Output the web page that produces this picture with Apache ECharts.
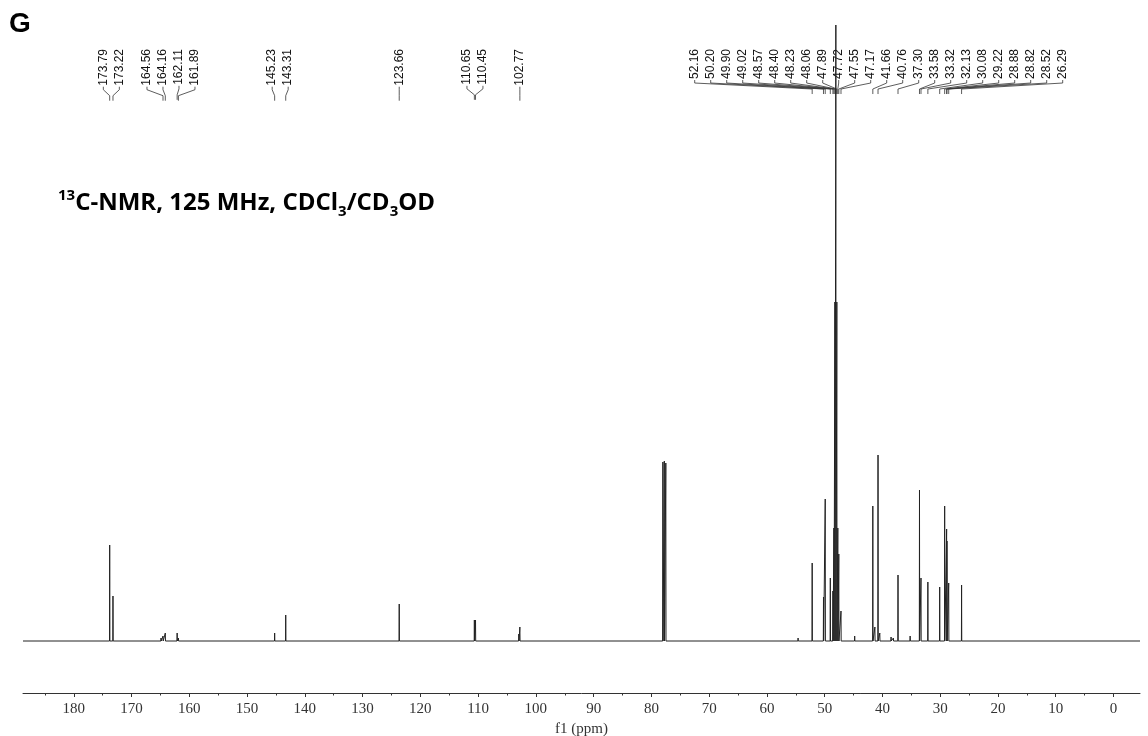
<!DOCTYPE html>
<html>
<head>
<meta charset="utf-8">
<script src="https://cdn.jsdelivr.net/npm/echarts@6/dist/echarts.min.js"></script>
<style>
  html, body { margin: 0; padding: 0; background: #fff; }
  #chart { width: 1148px; height: 736px; }
</style>
</head>
<body>
<div id="chart"></div>
<script>
// Assigned 13C lines: chemical shift (ppm) and peak height
const labelledShifts = [
  173.79, 173.22, 164.56, 164.16, 162.11, 161.89, 145.23, 143.31, 123.66,
  110.65, 110.45, 102.77,
  52.16, 50.20, 49.90, 49.02, 48.57, 48.40, 48.23, 48.06, 47.89, 47.72, 47.55,
  47.17, 41.66, 40.76, 37.30, 33.58, 33.32, 32.13, 30.08, 29.22, 28.88, 28.82,
  28.52, 26.29
];
const labelledHeights = [
  96, 45, 5, 8, 8, 3, 8, 26, 37,
  21, 21, 14,
  78, 44, 142, 63, 50, 113, 339, 616, 339, 113, 87,
  30, 135, 186, 66, 151, 63, 59, 54, 135, 112, 100,
  58, 56
];
// Unlabelled lines: CDCl3 triplet and weak signals
const otherShifts  = [78.01, 77.76, 77.50, 164.90, 102.95, 54.60, 44.80, 41.30, 40.45, 38.50, 38.10, 35.20];
const otherHeights = [179, 180, 178, 3, 7, 3, 5, 14, 8, 4, 3, 5];

// Axis ticks (ppm)
const majorTicks = [0, 10, 20, 30, 40, 50, 60, 70, 80, 90, 100, 110, 120, 130, 140, 150, 160, 170, 180];
const minorTicks = [5, 15, 25, 35, 45, 55, 65, 75, 85, 95, 105, 115, 125, 135, 145, 155, 165, 175, 185];
const ppmMin = -4.6, ppmMax = 188.8;

// Stick spectrum: each line drawn as a narrow spike on a flat baseline
const halfWidth = 0.03;
const lines = labelledShifts.map((p, i) => [p, labelledHeights[i]])
  .concat(otherShifts.map((p, i) => [p, otherHeights[i]]))
  .sort((a, b) => b[0] - a[0]);
const spectrum = [[ppmMax, 0]];
lines.forEach(([p, h]) => {
  spectrum.push([p + halfWidth, 0], [p, h], [p - halfWidth, 0]);
});
spectrum.push([ppmMin, 0]);

const chart = echarts.init(document.getElementById('chart'), null, { renderer: 'canvas' });

const axisColor = '#333';
const tickFont = 'Liberation Serif';

chart.setOption({
  animation: false,
  grid: { left: 23, right: 8, top: 20, bottom: 43, outerBoundsMode: 'none', containLabel: false },
  xAxis: [
    {
      type: 'value', min: ppmMin, max: ppmMax, inverse: true, position: 'bottom',
      axisLine: { show: true, onZero: false, lineStyle: { color: axisColor, width: 1 } },
      axisTick: { show: true, length: 4, customValues: majorTicks, lineStyle: { color: axisColor } },
      axisLabel: { customValues: majorTicks, margin: 9, color: '#333', fontFamily: tickFont, fontSize: 15 },
      splitLine: { show: false },
      name: 'f1 (ppm)', nameLocation: 'middle', nameGap: 25,
      nameTextStyle: { color: '#333', fontFamily: tickFont, fontSize: 15 }
    },
    {
      type: 'value', min: ppmMin, max: ppmMax, inverse: true, position: 'bottom',
      axisLine: { show: false, onZero: false },
      axisTick: { show: true, length: 2.5, customValues: minorTicks, lineStyle: { color: axisColor } },
      axisLabel: { show: false },
      splitLine: { show: false }
    }
  ],
  yAxis: { type: 'value', min: -52, max: 621, show: false },
  series: [{
    type: 'line', xAxisIndex: 0, data: spectrum, symbol: 'none', silent: true,
    lineStyle: { color: '#222', width: 1 }
  }]
});

// Shift labels across the top, spread apart where they crowd, with leader lines to each line
const labelFont = '12px "Liberation Sans", Arial, sans-serif';
const ctx = document.createElement('canvas').getContext('2d');
ctx.font = labelFont;
const items = labelledShifts.map(p => {
  const text = p.toFixed(2);
  return { text, px: chart.convertToPixel({ xAxisIndex: 0 }, p), w: ctx.measureText(text).width };
}).sort((a, b) => a.px - b.px);

const gap = 16;
const place = g => {
  const c = g.reduce((s, it) => s + it.px, 0) / g.length;
  return g.map((it, k) => c + (k - (g.length - 1) / 2) * gap);
};
let groups = items.map(it => [it]);
let merged = true;
while (merged) {
  merged = false;
  for (let i = 0; i < groups.length - 1; i++) {
    const a = place(groups[i]), b = place(groups[i + 1]);
    if (a[a.length - 1] + gap > b[0] + 0.01) {
      groups.splice(i, 2, groups[i].concat(groups[i + 1]));
      merged = true;
      break;
    }
  }
}

const textTop = 49;
const elements = [];
groups.forEach(g => {
  const xs = place(g);
  g.forEach((it, k) => {
    const xl = xs[k];
    const b = textTop + it.w;
    elements.push({
      type: 'text', x: xl, y: textTop, rotation: Math.PI / 2, silent: true,
      style: { text: it.text, font: labelFont, fill: '#111', align: 'right', verticalAlign: 'middle' }
    });
    elements.push({
      type: 'polyline', silent: true,
      shape: { points: [[xl, b + 1], [xl, b + 4], [it.px, b + 10], [it.px, b + 15]] },
      style: { stroke: '#333', lineWidth: 0.8, fill: null }
    });
  });
});

// Panel letter and experiment caption
elements.push({
  type: 'text', x: 9, y: 24, silent: true,
  style: { text: 'G', font: 'bold 28px "Liberation Sans", Arial, sans-serif', fill: '#000', verticalAlign: 'middle' }
});
elements.push({
  type: 'text', x: 58, y: 188, silent: true,
  style: {
    text: '{sup|13}{b|C-NMR, 125 MHz, CDCl}{sub|3}{b|/CD}{sub|3}{b|OD}',
    verticalAlign: 'top',
    rich: {
      b:   { fontFamily: 'Open Sans', fontWeight: 'bold', fontSize: 24, lineHeight: 31, fill: '#000' },
      sup: { fontFamily: 'Open Sans', fontWeight: 'bold', fontSize: 15, lineHeight: 16, verticalAlign: 'top', fill: '#000' },
      sub: { fontFamily: 'Open Sans', fontWeight: 'bold', fontSize: 15, lineHeight: 16, verticalAlign: 'bottom', fill: '#000' }
    }
  }
});

chart.setOption({ graphic: { elements } });
</script>
</body>
</html>
